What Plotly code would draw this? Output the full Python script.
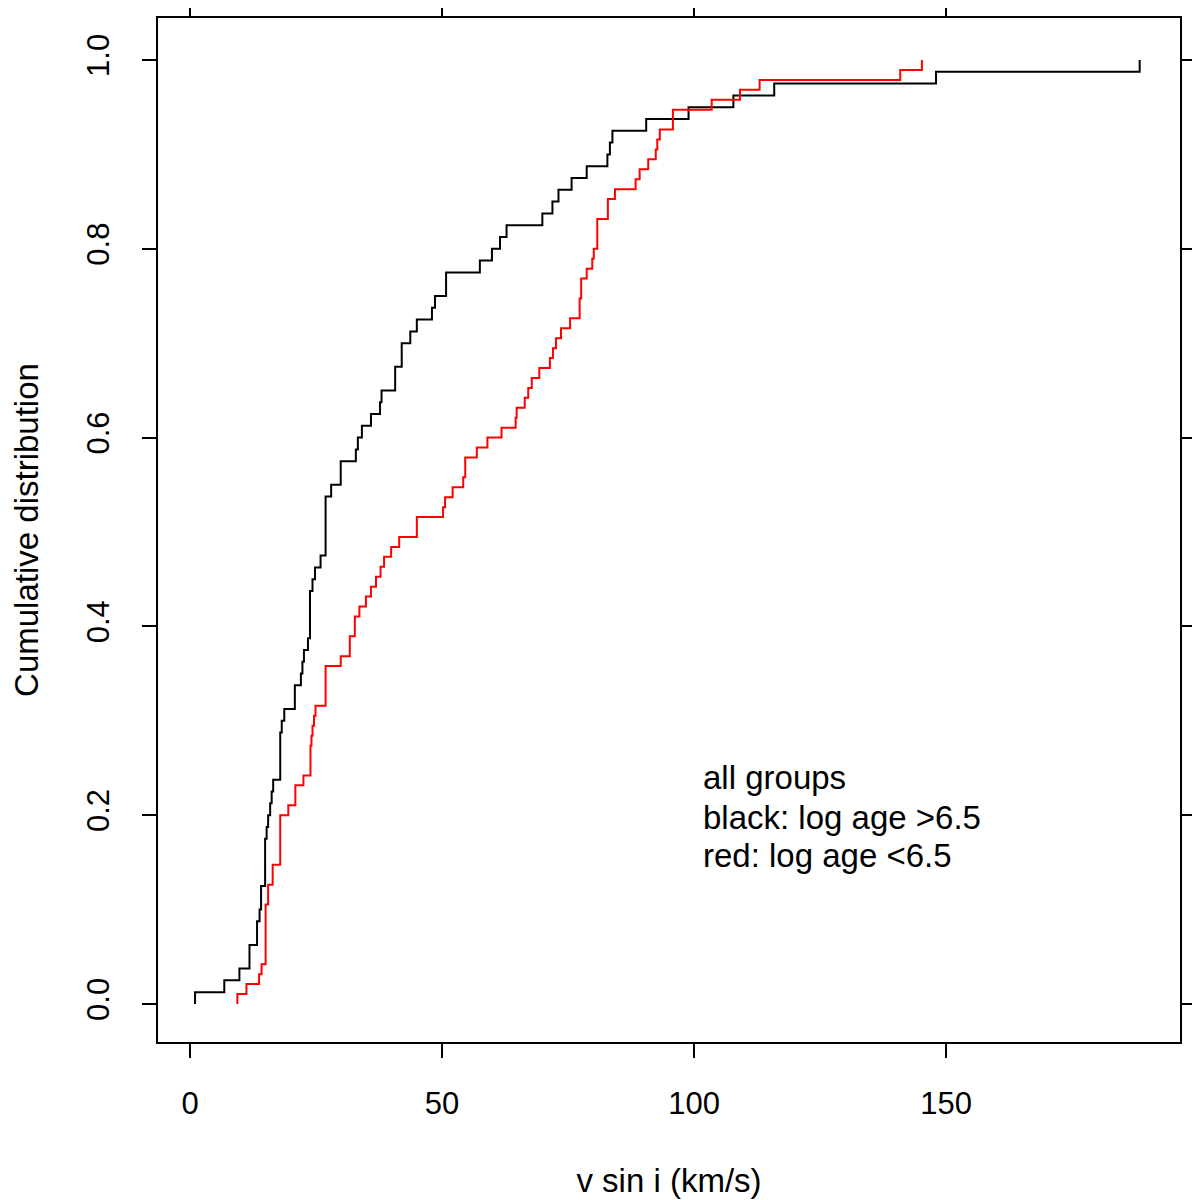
import numpy as np
import plotly.graph_objects as go

# v sin i samples (km/s)
older_vsini = [
    1.0, 6.8, 9.8, 11.8, 11.8, 13.3, 13.3, 13.8, 14.1, 14.1,
    14.9, 14.9, 14.9, 14.9, 15.2, 15.5, 15.9, 16.2, 16.5,
    17.9, 17.9, 17.9, 17.9, 18.2, 18.7, 20.8, 20.8, 22.0, 22.3, 22.6,
    23.4, 23.8, 23.8, 23.8, 23.8, 24.3, 24.8, 25.9,
    26.9, 26.9, 26.9, 26.9, 26.9, 28.0, 29.9, 29.9,
    32.9, 33.3, 34.1, 35.9, 37.7, 38.0, 40.7, 40.7, 42.0, 42.0,
    43.7, 45.0, 48.0, 48.6, 50.8, 50.8,
    57.5, 59.9, 61.5, 62.8, 69.9, 71.9, 73.1, 75.7, 78.7, 82.8, 83.3, 83.8,
    90.5, 98.9, 107.8, 115.9, 148.0, 188.4,
]
younger_vsini = [
    9.4, 11.2, 13.7, 14.2, 15.0, 15.0, 15.0, 15.0, 15.0, 15.0,
    15.5, 15.5, 16.4, 16.4, 17.9, 17.9, 17.9, 17.9, 17.9,
    19.5, 20.9, 20.9, 22.5, 23.9, 23.9, 23.9, 24.1, 24.3, 24.6, 24.9,
    26.9, 26.9, 26.9, 26.9, 29.9, 31.7, 31.7, 32.7, 32.7, 33.6,
    34.9, 35.9, 36.9, 37.8, 38.5, 39.9, 41.5, 45.0, 45.0,
    50.2, 50.6, 52.1, 54.2, 54.6, 54.6, 56.9, 59.0, 61.8, 64.6, 64.8,
    66.4, 67.1, 67.8, 69.3, 71.4, 72.0, 72.6, 73.6, 75.4,
    77.3, 77.3, 77.6, 77.6, 78.7, 79.8, 80.1, 80.8, 80.8, 80.8,
    82.9, 82.9, 84.3, 88.4, 89.2, 90.9, 92.4, 92.7, 93.2, 95.8, 95.8,
    103.5, 109.1, 113.0, 140.9, 145.2,
]

x_ticks = [0, 50, 100, 150]
y_ticks = [0.0, 0.2, 0.4, 0.6, 0.8, 1.0]
y_tick_text = ["0.0", "0.2", "0.4", "0.6", "0.8", "1.0"]
legend_lines = ["all groups", "black: log age >6.5", "red: log age <6.5"]

FONT = "Liberation Sans, Arial, sans-serif"


def ecdf_xy(values):
    v = np.sort(np.asarray(values, dtype=float))
    n = len(v)
    xs = np.concatenate([[v[0]], v])
    ys = np.concatenate([[0.0], np.arange(1, n + 1) / n])
    return xs, ys


fig = go.Figure()
for vals, col in [(older_vsini, "black"), (younger_vsini, "#ff0000")]:
    xs, ys = ecdf_xy(vals)
    fig.add_trace(go.Scatter(x=xs, y=ys, mode="lines", line=dict(color=col, width=2, shape="hv"),
                             showlegend=False, hoverinfo="skip"))

legend_y = [0.2394, 0.198, 0.1568]
for txt, yy in zip(legend_lines, legend_y):
    fig.add_annotation(x=101.4, y=yy, xref="x", yref="y", text=txt, showarrow=False,
                       xanchor="left", yanchor="middle",
                       font=dict(family=FONT, size=33, color="black"))

axis_common = dict(showline=True, linecolor="black", linewidth=1.5, mirror="ticks",
                   ticks="outside", ticklen=14, tickwidth=1.5, tickcolor="black",
                   showgrid=False, zeroline=False, automargin=False,
                   tickfont=dict(family=FONT, size=31, color="black"))

fig.update_xaxes(range=[-6.35, 196.4], tickvals=x_ticks, ticktext=[str(t) for t in x_ticks],
                 ticklabelstandoff=19,
                 title=dict(text="v sin i (km/s)", font=dict(family=FONT, size=33, color="black"), standoff=49),
                 **axis_common)
fig.update_yaxes(range=[-0.0403, 1.0445], tickvals=y_ticks, ticktext=y_tick_text, tickangle=-90,
                 ticklabelstandoff=21,
                 title=dict(text="Cumulative distribution", font=dict(family=FONT, size=33, color="black"), standoff=38),
                 **axis_common)

fig.update_layout(width=1200, height=1200, margin=dict(l=150, r=28, t=10, b=166),
                  plot_bgcolor="white", paper_bgcolor="white",
                  font=dict(family=FONT, color="black"))

fig.write_html("out.html")
